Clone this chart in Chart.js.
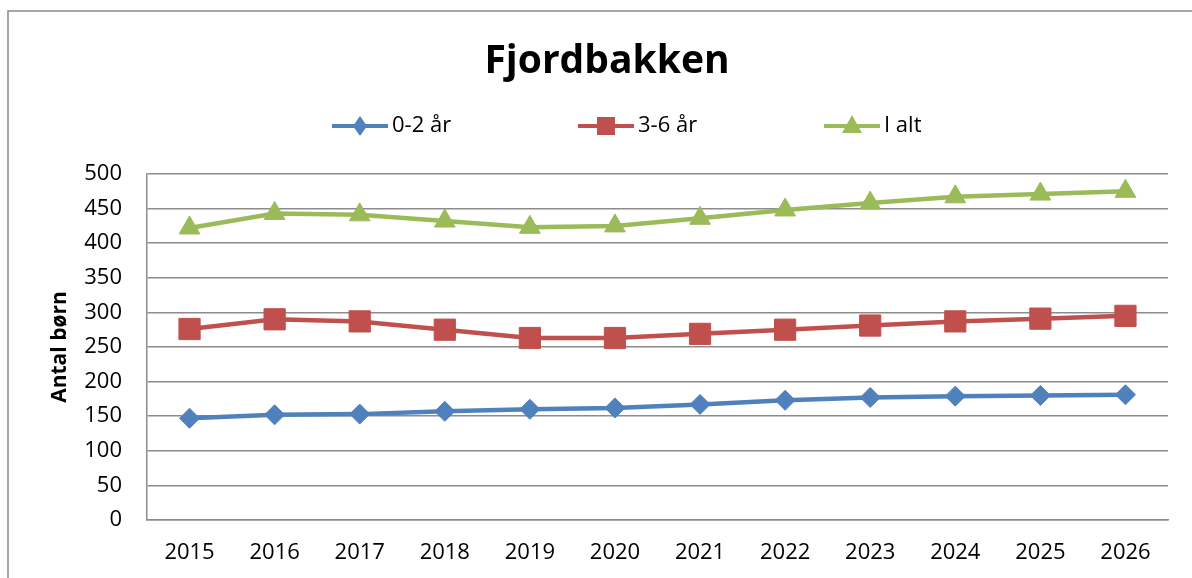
<!DOCTYPE html>
<html>
<head>
<meta charset="utf-8">
<script src="https://cdn.jsdelivr.net/npm/chart.js@4"></script>
<style>
    html, body { margin: 0; padding: 0; background: #ffffff; }
    #wrap { width: 1192px; height: 578px; position: relative; }
</style>
</head>
<body>
<div id="wrap"><canvas id="chart" width="1192" height="578"></canvas></div>
<script>
// Data
const years = ['2015', '2016', '2017', '2018', '2019', '2020', '2021', '2022', '2023', '2024', '2025', '2026'];
const age0to2 = [147, 152, 153, 157, 160, 162, 167, 173, 177, 179, 180, 181];
const age3to6 = [276, 290, 287, 275, 263, 263, 269, 275, 281, 287, 291, 295];
const total = [422, 443, 441, 432, 423, 425, 436, 448, 458, 467, 471, 475];

const seriesNames = ['0-2 år', '3-6 år', 'I alt'];
const seriesColors = ['#4f81bd', '#c0504d', '#9bbb59'];
const seriesMarkers = ['rectRot', 'rect', 'triangle'];

const yMin = 0;
const yMax = 500;
const yStep = 50;

const FONT = "'Open Sans', 'DejaVu Sans', sans-serif";
const GRID = '#8c8c8c';

// Excel style legend: line with marker in the middle, fixed slots
const legendPlugin = {
    id: 'excelLegend',
    afterDraw(chart) {
        const ctx = chart.ctx;
        const y = 126;
        const startX = 332;
        const slot = 246;
        ctx.save();
        chart.data.datasets.forEach((ds, i) => {
            const x0 = startX + i * slot;
            ctx.strokeStyle = ds.borderColor;
            ctx.lineWidth = 4;
            ctx.beginPath();
            ctx.moveTo(x0, y);
            ctx.lineTo(x0 + 56, y);
            ctx.stroke();
            const cx = x0 + 28;
            ctx.fillStyle = ds.borderColor;
            ctx.beginPath();
            if (ds.pointStyle === 'rectRot') {
                ctx.moveTo(cx, y - 10);
                ctx.lineTo(cx + 7, y);
                ctx.lineTo(cx, y + 10);
                ctx.lineTo(cx - 7, y);
            } else if (ds.pointStyle === 'rect') {
                ctx.rect(cx - 9, y - 9, 18, 18);
            } else {
                ctx.moveTo(cx, y - 11);
                ctx.lineTo(cx + 10, y + 7);
                ctx.lineTo(cx - 10, y + 7);
            }
            ctx.closePath();
            ctx.fill();
            ctx.fillStyle = '#000000';
            ctx.font = '22px ' + FONT;
            ctx.textBaseline = 'middle';
            ctx.textAlign = 'left';
            ctx.fillText(ds.label, x0 + 60, y);
        });
        ctx.restore();
    }
};

// Outer chart frame
const framePlugin = {
    id: 'frame',
    beforeDraw(chart) {
        const ctx = chart.ctx;
        ctx.save();
        ctx.fillStyle = '#ffffff';
        ctx.fillRect(0, 0, chart.width, chart.height);
        ctx.strokeStyle = '#8a8a8a';
        ctx.lineWidth = 1.5;
        ctx.strokeRect(8, 11, 1300, 700);
        ctx.restore();
    }
};

const seriesData = [age0to2, age3to6, total];
const pointSizes = [10, 15, 12];

const datasets = seriesData.map((values, i) => ({
    label: seriesNames[i],
    data: values,
    borderColor: seriesColors[i],
    backgroundColor: seriesColors[i],
    borderWidth: 4.5,
    pointStyle: seriesMarkers[i],
    pointRadius: pointSizes[i],
    pointBackgroundColor: seriesColors[i],
    pointBorderColor: seriesColors[i],
    pointBorderWidth: 1,
    tension: 0
}));

new Chart(document.getElementById('chart'), {
    type: 'line',
    data: {
        labels: years,
        datasets: datasets
    },
    options: {
        responsive: false,
        animation: false,
        devicePixelRatio: 1,
        layout: {
            padding: { left: 46, right: 24, top: 0, bottom: 0 }
        },
        plugins: {
            legend: { display: false },
            tooltip: { enabled: false },
            title: {
                display: true,
                text: 'Fjordbakken',
                color: '#000000',
                font: { family: FONT, size: 39, weight: 'bold' },
                padding: { top: 38.6, bottom: 88.6 }
            }
        },
        scales: {
            x: {
                offset: true,
                grid: { display: false, drawTicks: false },
                border: { display: true, color: GRID, width: 1.5 },
                ticks: {
                    color: '#000000',
                    font: { family: FONT, size: 22 },
                    padding: 20,
                    maxRotation: 0
                },
                afterFit(scale) { scale.height = 58; }
            },
            y: {
                min: yMin,
                max: yMax,
                grid: { color: GRID, lineWidth: 1.5, drawTicks: false },
                border: { display: true, color: GRID, width: 1.5 },
                ticks: {
                    stepSize: yStep,
                    color: '#000000',
                    font: { family: FONT, size: 22 },
                    padding: 25
                },
                title: {
                    display: true,
                    text: 'Antal børn',
                    color: '#000000',
                    font: { family: FONT, size: 21, weight: 'bold' },
                    padding: { top: 1.5, bottom: 0 }
                },
                afterFit(scale) { scale.width = 101; }
            }
        }
    },
    plugins: [framePlugin, legendPlugin]
});
</script>
</body>
</html>
